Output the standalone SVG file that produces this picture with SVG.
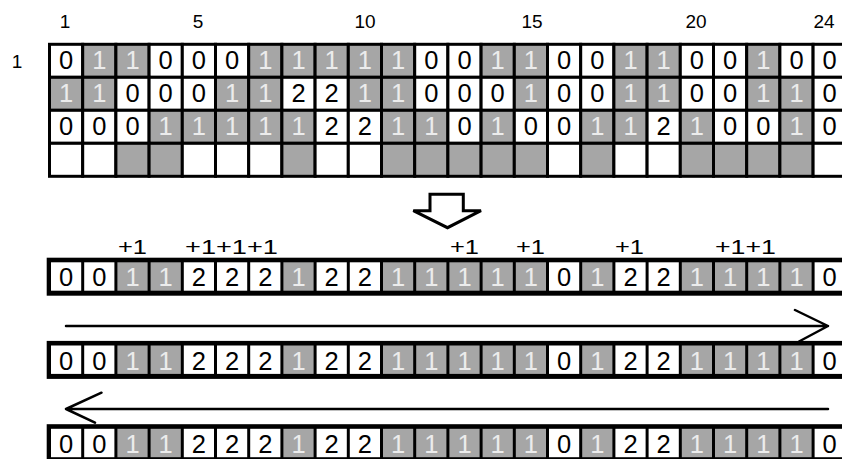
<svg xmlns="http://www.w3.org/2000/svg" width="842" height="459" viewBox="0 0 842 459">
<style>
text{font-family:"Liberation Sans",Arial,sans-serif}
.w{fill:#fff;stroke:#000;stroke-width:3}
.g{fill:#a6a6a6;stroke:#000;stroke-width:3}
.bw{fill:#fff}
.bg{fill:#a6a6a6}
.d{font-size:25.5px;fill:#000;text-anchor:middle}
.l{font-size:25.5px;fill:#ececec;text-anchor:middle}
.n{font-size:19px;fill:#000;text-anchor:middle}
.p{font-size:21px;fill:#000}
.ln{fill:none;stroke:#000;stroke-width:2.5;stroke-linecap:round;stroke-linejoin:round}
</style>
<g id="column-numbers">
<text class="n" x="65" y="28">1</text>
<text class="n" x="198" y="28">5</text>
<text class="n" x="365" y="28">10</text>
<text class="n" x="532" y="28">15</text>
<text class="n" x="696" y="28">20</text>
<text class="n" x="824" y="28">24</text>
<text class="n" x="17" y="68">1</text>
</g>
<g id="grid-row1" transform="translate(0,44.3)">
<rect class="w" x="49.5" y="0" width="33.2" height="33"/><rect class="g" x="82.7" y="0" width="33.2" height="33"/><rect class="g" x="115.9" y="0" width="33.2" height="33"/><rect class="w" x="149.1" y="0" width="33.2" height="33"/><rect class="w" x="182.3" y="0" width="33.2" height="33"/><rect class="w" x="215.5" y="0" width="33.2" height="33"/><rect class="g" x="248.7" y="0" width="33.2" height="33"/><rect class="g" x="281.9" y="0" width="33.2" height="33"/><rect class="g" x="315.1" y="0" width="33.2" height="33"/><rect class="g" x="348.3" y="0" width="33.2" height="33"/><rect class="g" x="381.5" y="0" width="33.2" height="33"/><rect class="w" x="414.7" y="0" width="33.2" height="33"/><rect class="w" x="447.9" y="0" width="33.2" height="33"/><rect class="g" x="481.1" y="0" width="33.2" height="33"/><rect class="g" x="514.3" y="0" width="33.2" height="33"/><rect class="w" x="547.5" y="0" width="33.2" height="33"/><rect class="w" x="580.7" y="0" width="33.2" height="33"/><rect class="g" x="613.9" y="0" width="33.2" height="33"/><rect class="g" x="647.1" y="0" width="33.2" height="33"/><rect class="w" x="680.3" y="0" width="33.2" height="33"/><rect class="w" x="713.5" y="0" width="33.2" height="33"/><rect class="g" x="746.7" y="0" width="33.2" height="33"/><rect class="w" x="779.9" y="0" width="33.2" height="33"/><rect class="w" x="813.1" y="0" width="33.2" height="33"/>
<text class="d" x="66.1" y="24.5">0</text><text class="l" x="99.3" y="24.5">1</text><text class="l" x="132.5" y="24.5">1</text><text class="d" x="165.7" y="24.5">0</text><text class="d" x="198.9" y="24.5">0</text><text class="d" x="232.1" y="24.5">0</text><text class="l" x="265.3" y="24.5">1</text><text class="l" x="298.5" y="24.5">1</text><text class="l" x="331.7" y="24.5">1</text><text class="l" x="364.9" y="24.5">1</text><text class="l" x="398.1" y="24.5">1</text><text class="d" x="431.3" y="24.5">0</text><text class="d" x="464.5" y="24.5">0</text><text class="l" x="497.7" y="24.5">1</text><text class="l" x="530.9" y="24.5">1</text><text class="d" x="564.1" y="24.5">0</text><text class="d" x="597.3" y="24.5">0</text><text class="l" x="630.5" y="24.5">1</text><text class="l" x="663.7" y="24.5">1</text><text class="d" x="696.9" y="24.5">0</text><text class="d" x="730.1" y="24.5">0</text><text class="l" x="763.3" y="24.5">1</text><text class="d" x="796.5" y="24.5">0</text><text class="d" x="829.7" y="24.5">0</text>
</g>
<g id="grid-row2" transform="translate(0,77.3)">
<rect class="g" x="49.5" y="0" width="33.2" height="33"/><rect class="g" x="82.7" y="0" width="33.2" height="33"/><rect class="w" x="115.9" y="0" width="33.2" height="33"/><rect class="w" x="149.1" y="0" width="33.2" height="33"/><rect class="w" x="182.3" y="0" width="33.2" height="33"/><rect class="g" x="215.5" y="0" width="33.2" height="33"/><rect class="g" x="248.7" y="0" width="33.2" height="33"/><rect class="w" x="281.9" y="0" width="33.2" height="33"/><rect class="w" x="315.1" y="0" width="33.2" height="33"/><rect class="g" x="348.3" y="0" width="33.2" height="33"/><rect class="g" x="381.5" y="0" width="33.2" height="33"/><rect class="w" x="414.7" y="0" width="33.2" height="33"/><rect class="w" x="447.9" y="0" width="33.2" height="33"/><rect class="w" x="481.1" y="0" width="33.2" height="33"/><rect class="g" x="514.3" y="0" width="33.2" height="33"/><rect class="w" x="547.5" y="0" width="33.2" height="33"/><rect class="w" x="580.7" y="0" width="33.2" height="33"/><rect class="g" x="613.9" y="0" width="33.2" height="33"/><rect class="g" x="647.1" y="0" width="33.2" height="33"/><rect class="w" x="680.3" y="0" width="33.2" height="33"/><rect class="w" x="713.5" y="0" width="33.2" height="33"/><rect class="g" x="746.7" y="0" width="33.2" height="33"/><rect class="g" x="779.9" y="0" width="33.2" height="33"/><rect class="w" x="813.1" y="0" width="33.2" height="33"/>
<text class="l" x="66.1" y="24.5">1</text><text class="l" x="99.3" y="24.5">1</text><text class="d" x="132.5" y="24.5">0</text><text class="d" x="165.7" y="24.5">0</text><text class="d" x="198.9" y="24.5">0</text><text class="l" x="232.1" y="24.5">1</text><text class="l" x="265.3" y="24.5">1</text><text class="d" x="298.5" y="24.5">2</text><text class="d" x="331.7" y="24.5">2</text><text class="l" x="364.9" y="24.5">1</text><text class="l" x="398.1" y="24.5">1</text><text class="d" x="431.3" y="24.5">0</text><text class="d" x="464.5" y="24.5">0</text><text class="d" x="497.7" y="24.5">0</text><text class="l" x="530.9" y="24.5">1</text><text class="d" x="564.1" y="24.5">0</text><text class="d" x="597.3" y="24.5">0</text><text class="l" x="630.5" y="24.5">1</text><text class="l" x="663.7" y="24.5">1</text><text class="d" x="696.9" y="24.5">0</text><text class="d" x="730.1" y="24.5">0</text><text class="l" x="763.3" y="24.5">1</text><text class="l" x="796.5" y="24.5">1</text><text class="d" x="829.7" y="24.5">0</text>
</g>
<g id="grid-row3" transform="translate(0,110.3)">
<rect class="w" x="49.5" y="0" width="33.2" height="33"/><rect class="w" x="82.7" y="0" width="33.2" height="33"/><rect class="w" x="115.9" y="0" width="33.2" height="33"/><rect class="g" x="149.1" y="0" width="33.2" height="33"/><rect class="g" x="182.3" y="0" width="33.2" height="33"/><rect class="g" x="215.5" y="0" width="33.2" height="33"/><rect class="g" x="248.7" y="0" width="33.2" height="33"/><rect class="g" x="281.9" y="0" width="33.2" height="33"/><rect class="w" x="315.1" y="0" width="33.2" height="33"/><rect class="w" x="348.3" y="0" width="33.2" height="33"/><rect class="g" x="381.5" y="0" width="33.2" height="33"/><rect class="g" x="414.7" y="0" width="33.2" height="33"/><rect class="w" x="447.9" y="0" width="33.2" height="33"/><rect class="g" x="481.1" y="0" width="33.2" height="33"/><rect class="w" x="514.3" y="0" width="33.2" height="33"/><rect class="w" x="547.5" y="0" width="33.2" height="33"/><rect class="g" x="580.7" y="0" width="33.2" height="33"/><rect class="g" x="613.9" y="0" width="33.2" height="33"/><rect class="w" x="647.1" y="0" width="33.2" height="33"/><rect class="g" x="680.3" y="0" width="33.2" height="33"/><rect class="w" x="713.5" y="0" width="33.2" height="33"/><rect class="w" x="746.7" y="0" width="33.2" height="33"/><rect class="g" x="779.9" y="0" width="33.2" height="33"/><rect class="w" x="813.1" y="0" width="33.2" height="33"/>
<text class="d" x="66.1" y="24.5">0</text><text class="d" x="99.3" y="24.5">0</text><text class="d" x="132.5" y="24.5">0</text><text class="l" x="165.7" y="24.5">1</text><text class="l" x="198.9" y="24.5">1</text><text class="l" x="232.1" y="24.5">1</text><text class="l" x="265.3" y="24.5">1</text><text class="l" x="298.5" y="24.5">1</text><text class="d" x="331.7" y="24.5">2</text><text class="d" x="364.9" y="24.5">2</text><text class="l" x="398.1" y="24.5">1</text><text class="l" x="431.3" y="24.5">1</text><text class="d" x="464.5" y="24.5">0</text><text class="l" x="497.7" y="24.5">1</text><text class="d" x="530.9" y="24.5">0</text><text class="d" x="564.1" y="24.5">0</text><text class="l" x="597.3" y="24.5">1</text><text class="l" x="630.5" y="24.5">1</text><text class="d" x="663.7" y="24.5">2</text><text class="l" x="696.9" y="24.5">1</text><text class="d" x="730.1" y="24.5">0</text><text class="d" x="763.3" y="24.5">0</text><text class="l" x="796.5" y="24.5">1</text><text class="d" x="829.7" y="24.5">0</text>
</g>
<g id="grid-row4" transform="translate(0,143.3)">
<rect class="w" x="49.5" y="0" width="33.2" height="33"/><rect class="w" x="82.7" y="0" width="33.2" height="33"/><rect class="g" x="115.9" y="0" width="33.2" height="33"/><rect class="g" x="149.1" y="0" width="33.2" height="33"/><rect class="w" x="182.3" y="0" width="33.2" height="33"/><rect class="w" x="215.5" y="0" width="33.2" height="33"/><rect class="w" x="248.7" y="0" width="33.2" height="33"/><rect class="g" x="281.9" y="0" width="33.2" height="33"/><rect class="w" x="315.1" y="0" width="33.2" height="33"/><rect class="w" x="348.3" y="0" width="33.2" height="33"/><rect class="g" x="381.5" y="0" width="33.2" height="33"/><rect class="g" x="414.7" y="0" width="33.2" height="33"/><rect class="g" x="447.9" y="0" width="33.2" height="33"/><rect class="g" x="481.1" y="0" width="33.2" height="33"/><rect class="g" x="514.3" y="0" width="33.2" height="33"/><rect class="w" x="547.5" y="0" width="33.2" height="33"/><rect class="g" x="580.7" y="0" width="33.2" height="33"/><rect class="w" x="613.9" y="0" width="33.2" height="33"/><rect class="w" x="647.1" y="0" width="33.2" height="33"/><rect class="g" x="680.3" y="0" width="33.2" height="33"/><rect class="g" x="713.5" y="0" width="33.2" height="33"/><rect class="g" x="746.7" y="0" width="33.2" height="33"/><rect class="g" x="779.9" y="0" width="33.2" height="33"/><rect class="w" x="813.1" y="0" width="33.2" height="33"/>
</g>
<g id="down-arrow">
<path d="M430,194.3 H463.3 V210.7 H481 L447.5,227.7 L413.3,210.7 H430 Z" fill="#fff" stroke="#000" stroke-width="3" stroke-linejoin="miter"/>
</g>
<g id="plus-labels">
<text class="p" x="118" y="254" textLength="29" lengthAdjust="spacingAndGlyphs">+1</text>
<text class="p" x="185" y="254" textLength="93" lengthAdjust="spacingAndGlyphs">+1+1+1</text>
<text class="p" x="450" y="254" textLength="29" lengthAdjust="spacingAndGlyphs">+1</text>
<text class="p" x="516" y="254" textLength="29" lengthAdjust="spacingAndGlyphs">+1</text>
<text class="p" x="615" y="254" textLength="29" lengthAdjust="spacingAndGlyphs">+1</text>
<text class="p" x="715" y="254" textLength="61" lengthAdjust="spacingAndGlyphs">+1+1</text>
</g>
<g id="result-row-a">
<rect x="46.7" y="257.7" width="800" height="38" fill="#000"/>
<g transform="translate(0,262.3)">
<rect class="bw" x="51" y="0" width="30.2" height="28.4"/><rect class="bw" x="84.2" y="0" width="30.2" height="28.4"/><rect class="bg" x="117.4" y="0" width="30.2" height="28.4"/><rect class="bg" x="150.6" y="0" width="30.2" height="28.4"/><rect class="bw" x="183.8" y="0" width="30.2" height="28.4"/><rect class="bw" x="217" y="0" width="30.2" height="28.4"/><rect class="bw" x="250.2" y="0" width="30.2" height="28.4"/><rect class="bg" x="283.4" y="0" width="30.2" height="28.4"/><rect class="bw" x="316.6" y="0" width="30.2" height="28.4"/><rect class="bw" x="349.8" y="0" width="30.2" height="28.4"/><rect class="bg" x="383" y="0" width="30.2" height="28.4"/><rect class="bg" x="416.2" y="0" width="30.2" height="28.4"/><rect class="bg" x="449.4" y="0" width="30.2" height="28.4"/><rect class="bg" x="482.6" y="0" width="30.2" height="28.4"/><rect class="bg" x="515.8" y="0" width="30.2" height="28.4"/><rect class="bw" x="549" y="0" width="30.2" height="28.4"/><rect class="bg" x="582.2" y="0" width="30.2" height="28.4"/><rect class="bw" x="615.4" y="0" width="30.2" height="28.4"/><rect class="bw" x="648.6" y="0" width="30.2" height="28.4"/><rect class="bg" x="681.8" y="0" width="30.2" height="28.4"/><rect class="bg" x="715" y="0" width="30.2" height="28.4"/><rect class="bg" x="748.2" y="0" width="30.2" height="28.4"/><rect class="bg" x="781.4" y="0" width="30.2" height="28.4"/><rect class="bw" x="814.6" y="0" width="30.2" height="28.4"/>
<text class="d" x="66.1" y="24">0</text><text class="d" x="99.3" y="24">0</text><text class="l" x="132.5" y="24">1</text><text class="l" x="165.7" y="24">1</text><text class="d" x="198.9" y="24">2</text><text class="d" x="232.1" y="24">2</text><text class="d" x="265.3" y="24">2</text><text class="l" x="298.5" y="24">1</text><text class="d" x="331.7" y="24">2</text><text class="d" x="364.9" y="24">2</text><text class="l" x="398.1" y="24">1</text><text class="l" x="431.3" y="24">1</text><text class="l" x="464.5" y="24">1</text><text class="l" x="497.7" y="24">1</text><text class="l" x="530.9" y="24">1</text><text class="d" x="564.1" y="24">0</text><text class="l" x="597.3" y="24">1</text><text class="d" x="630.5" y="24">2</text><text class="d" x="663.7" y="24">2</text><text class="l" x="696.9" y="24">1</text><text class="l" x="730.1" y="24">1</text><text class="l" x="763.3" y="24">1</text><text class="l" x="796.5" y="24">1</text><text class="d" x="829.7" y="24">0</text>
</g>
</g>
<g id="result-row-b">
<rect x="46.7" y="340.9" width="800" height="38" fill="#000"/>
<g transform="translate(0,345.5)">
<rect class="bw" x="51" y="0" width="30.2" height="28.4"/><rect class="bw" x="84.2" y="0" width="30.2" height="28.4"/><rect class="bg" x="117.4" y="0" width="30.2" height="28.4"/><rect class="bg" x="150.6" y="0" width="30.2" height="28.4"/><rect class="bw" x="183.8" y="0" width="30.2" height="28.4"/><rect class="bw" x="217" y="0" width="30.2" height="28.4"/><rect class="bw" x="250.2" y="0" width="30.2" height="28.4"/><rect class="bg" x="283.4" y="0" width="30.2" height="28.4"/><rect class="bw" x="316.6" y="0" width="30.2" height="28.4"/><rect class="bw" x="349.8" y="0" width="30.2" height="28.4"/><rect class="bg" x="383" y="0" width="30.2" height="28.4"/><rect class="bg" x="416.2" y="0" width="30.2" height="28.4"/><rect class="bg" x="449.4" y="0" width="30.2" height="28.4"/><rect class="bg" x="482.6" y="0" width="30.2" height="28.4"/><rect class="bg" x="515.8" y="0" width="30.2" height="28.4"/><rect class="bw" x="549" y="0" width="30.2" height="28.4"/><rect class="bg" x="582.2" y="0" width="30.2" height="28.4"/><rect class="bw" x="615.4" y="0" width="30.2" height="28.4"/><rect class="bw" x="648.6" y="0" width="30.2" height="28.4"/><rect class="bg" x="681.8" y="0" width="30.2" height="28.4"/><rect class="bg" x="715" y="0" width="30.2" height="28.4"/><rect class="bg" x="748.2" y="0" width="30.2" height="28.4"/><rect class="bg" x="781.4" y="0" width="30.2" height="28.4"/><rect class="bw" x="814.6" y="0" width="30.2" height="28.4"/>
<text class="d" x="66.1" y="24">0</text><text class="d" x="99.3" y="24">0</text><text class="l" x="132.5" y="24">1</text><text class="l" x="165.7" y="24">1</text><text class="d" x="198.9" y="24">2</text><text class="d" x="232.1" y="24">2</text><text class="d" x="265.3" y="24">2</text><text class="l" x="298.5" y="24">1</text><text class="d" x="331.7" y="24">2</text><text class="d" x="364.9" y="24">2</text><text class="l" x="398.1" y="24">1</text><text class="l" x="431.3" y="24">1</text><text class="l" x="464.5" y="24">1</text><text class="l" x="497.7" y="24">1</text><text class="l" x="530.9" y="24">1</text><text class="d" x="564.1" y="24">0</text><text class="l" x="597.3" y="24">1</text><text class="d" x="630.5" y="24">2</text><text class="d" x="663.7" y="24">2</text><text class="l" x="696.9" y="24">1</text><text class="l" x="730.1" y="24">1</text><text class="l" x="763.3" y="24">1</text><text class="l" x="796.5" y="24">1</text><text class="d" x="829.7" y="24">0</text>
</g>
</g>
<g id="result-row-c">
<rect x="46.7" y="424.2" width="800" height="38" fill="#000"/>
<g transform="translate(0,428.8)">
<rect class="bw" x="51" y="0" width="30.2" height="28.4"/><rect class="bw" x="84.2" y="0" width="30.2" height="28.4"/><rect class="bg" x="117.4" y="0" width="30.2" height="28.4"/><rect class="bg" x="150.6" y="0" width="30.2" height="28.4"/><rect class="bw" x="183.8" y="0" width="30.2" height="28.4"/><rect class="bw" x="217" y="0" width="30.2" height="28.4"/><rect class="bw" x="250.2" y="0" width="30.2" height="28.4"/><rect class="bg" x="283.4" y="0" width="30.2" height="28.4"/><rect class="bw" x="316.6" y="0" width="30.2" height="28.4"/><rect class="bw" x="349.8" y="0" width="30.2" height="28.4"/><rect class="bg" x="383" y="0" width="30.2" height="28.4"/><rect class="bg" x="416.2" y="0" width="30.2" height="28.4"/><rect class="bg" x="449.4" y="0" width="30.2" height="28.4"/><rect class="bg" x="482.6" y="0" width="30.2" height="28.4"/><rect class="bg" x="515.8" y="0" width="30.2" height="28.4"/><rect class="bw" x="549" y="0" width="30.2" height="28.4"/><rect class="bg" x="582.2" y="0" width="30.2" height="28.4"/><rect class="bw" x="615.4" y="0" width="30.2" height="28.4"/><rect class="bw" x="648.6" y="0" width="30.2" height="28.4"/><rect class="bg" x="681.8" y="0" width="30.2" height="28.4"/><rect class="bg" x="715" y="0" width="30.2" height="28.4"/><rect class="bg" x="748.2" y="0" width="30.2" height="28.4"/><rect class="bg" x="781.4" y="0" width="30.2" height="28.4"/><rect class="bw" x="814.6" y="0" width="30.2" height="28.4"/>
<text class="d" x="66.1" y="24">0</text><text class="d" x="99.3" y="24">0</text><text class="l" x="132.5" y="24">1</text><text class="l" x="165.7" y="24">1</text><text class="d" x="198.9" y="24">2</text><text class="d" x="232.1" y="24">2</text><text class="d" x="265.3" y="24">2</text><text class="l" x="298.5" y="24">1</text><text class="d" x="331.7" y="24">2</text><text class="d" x="364.9" y="24">2</text><text class="l" x="398.1" y="24">1</text><text class="l" x="431.3" y="24">1</text><text class="l" x="464.5" y="24">1</text><text class="l" x="497.7" y="24">1</text><text class="l" x="530.9" y="24">1</text><text class="d" x="564.1" y="24">0</text><text class="l" x="597.3" y="24">1</text><text class="d" x="630.5" y="24">2</text><text class="d" x="663.7" y="24">2</text><text class="l" x="696.9" y="24">1</text><text class="l" x="730.1" y="24">1</text><text class="l" x="763.3" y="24">1</text><text class="l" x="796.5" y="24">1</text><text class="d" x="829.7" y="24">0</text>
</g>
</g>
<g id="connectors">
<path class="ln" d="M66,326 H828 M795,310 L828,326 L799,341.5"/>
<path class="ln" d="M66,409 H828 M101.5,392.7 L66,409 L95,422.7"/>
</g>
</svg>
